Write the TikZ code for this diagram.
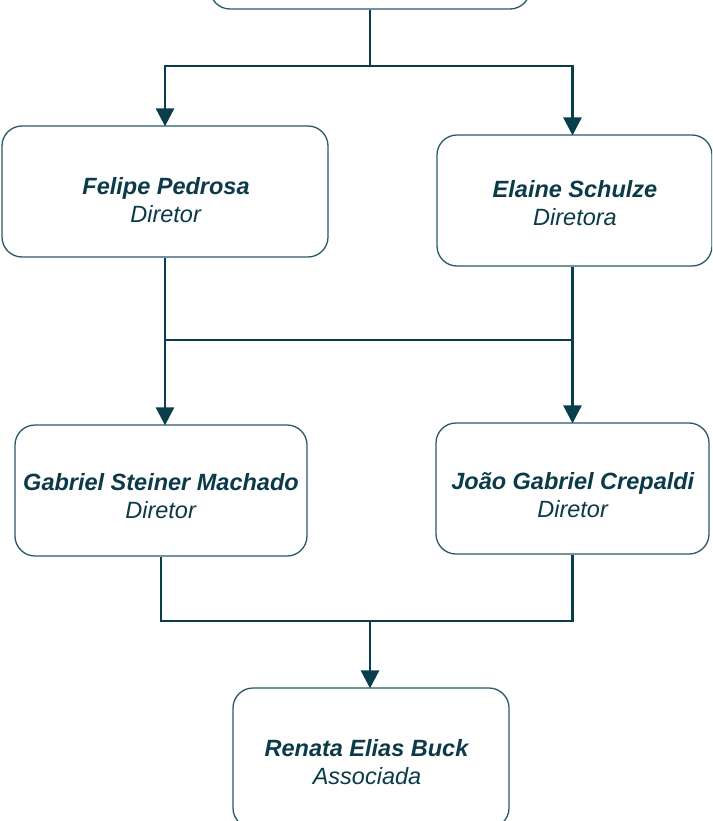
\documentclass[tikz,border=0pt]{standalone}
\usepackage{fontspec}
\setmainfont{Liberation Sans}
\usetikzlibrary{arrows.meta}
\definecolor{linec}{HTML}{0A3E4C}
\definecolor{textc}{HTML}{0B3A48}
\definecolor{boxc}{HTML}{2A5A69}
\tikzset{
  person/.style={draw=boxc, line width=1.3pt, rounded corners=20pt, fill=white, inner sep=0pt},
  ptext/.style={text=textc, align=center, inner sep=0pt, font=\fontsize{23.5}{27.5}\selectfont},
  conn/.style={draw=linec, line width=2.9pt},
  arr/.style={conn, -{Triangle[width=18pt,length=18pt]}, shorten >=-1pt},
}
\newcommand{\pname}[1]{\textbf{\textit{#1}}}
\newcommand{\ptitle}[1]{\textit{#1}}
\begin{document}
\begin{tikzpicture}[x=1pt,y=-1pt]
\useasboundingbox (0,0) rectangle (712,821);
\clip (0,0) rectangle (712,821);
% boxes
\node[person, minimum width=320pt, minimum height=130pt] (top) at (370,-56) {};
\node[person, minimum width=326pt, minimum height=131pt] (felipe) at (165,191.5) {};
\node[person, minimum width=275pt, minimum height=131pt] (elaine) at (574.5,200.5) {};
\node[person, minimum width=292pt, minimum height=131pt] (gabriel) at (161,490.5) {};
\node[person, minimum width=273pt, minimum height=131pt] (joao) at (572.5,488.5) {};
\node[person, minimum width=276pt, minimum height=140pt] (renata) at (371,758) {};
% texts
\node[ptext] (felipe-t) at (166,200) {\pname{Felipe Pedrosa}\\\ptitle{Diretor}};
\node[ptext] (elaine-t) at (575,203) {\pname{Elaine Schulze}\\\ptitle{Diretora}};
\node[ptext] (gabriel-t) at (161,496) {\pname{Gabriel Steiner Machado}\\\ptitle{Diretor}};
\node[ptext] (joao-t) at (573,495) {\pname{João Gabriel Crepaldi}\\\ptitle{Diretor}};
\node[ptext] (renata-t) at (367,762) {\pname{Renata Elias Buck}\\\ptitle{Associada}};
% junctions
\coordinate (j1) at (370,66);
\coordinate (j2l) at (165,340);
\coordinate (j2r) at (572.5,340);
\coordinate (j3) at (370,621);
% connectors
\draw[conn] (top.south) -- (j1);
\draw[arr] (j1) -| (felipe.north);
\draw[arr] (j1) -| (elaine.north -| j2r);
\draw[conn] (felipe.south) -- (j2l) -- (j2r);
\draw[conn] (elaine.south -| j2r) -- (j2r);
\draw[arr] (j2l) -- (j2l |- gabriel.north);
\draw[arr] (j2r) -- (j2r |- joao.north);
\draw[conn] (gabriel.south) |- (j3);
\draw[conn] (joao.south) |- (j3);
\draw[arr] (j3) -- (j3 |- renata.north);
\end{tikzpicture}
\end{document}
